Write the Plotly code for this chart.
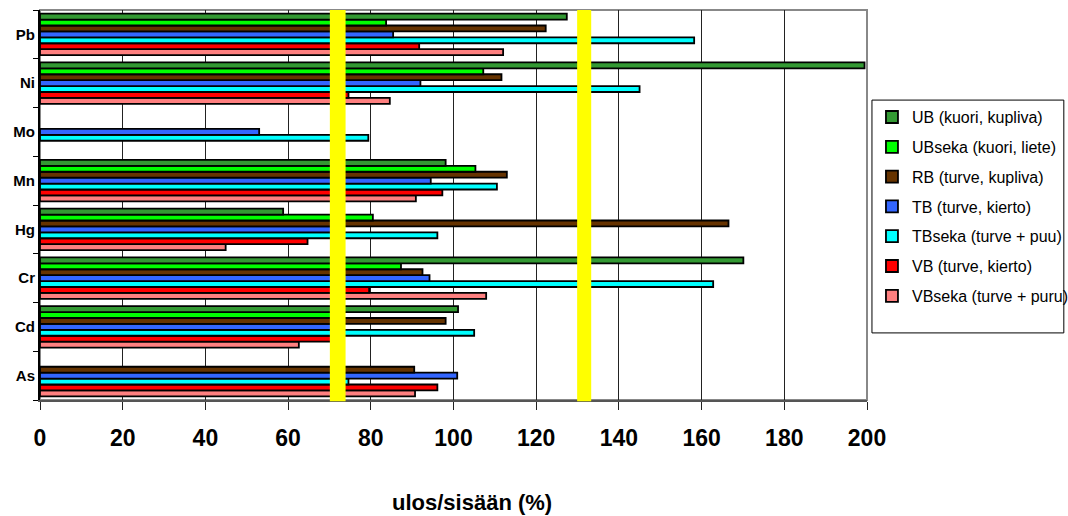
import plotly.graph_objects as go

categories = ["As", "Cd", "Cr", "Hg", "Mn", "Mo", "Ni", "Pb"]

series_names = [
    "UB (kuori, kupliva)",
    "UBseka (kuori, liete)",
    "RB (turve, kupliva)",
    "TB (turve, kierto)",
    "TBseka (turve + puu)",
    "VB (turve, kierto)",
    "VBseka (turve + puru)",
]

ub      = [None, 101.1, 170.1, 58.8, 98.1, None, 199.4, 127.4]
ubseka  = [None, 72.0, 87.3, 80.5, 105.3, None, 107.2, 83.7]
rb      = [90.5, 98.1, 92.5, 166.5, 112.9, None, 111.6, 122.3]
tb      = [100.9, 71.5, 94.2, 72.0, 94.5, 53.0, 92.0, 85.4]
tbseka  = [74.6, 105.0, 162.8, 96.1, 110.5, 79.4, 145.0, 158.2]
vb      = [96.1, 71.0, 79.6, 64.7, 97.3, None, 74.6, 91.7]
vbseka  = [90.7, 62.6, 107.9, 44.9, 90.9, None, 84.6, 112.0]

series_values = [ub, ubseka, rb, tb, tbseka, vb, vbseka]
colors = ["#339933", "#00ff00", "#663300", "#3366ff", "#00ffff", "#ff0000", "#ff8080"]

x_ticks = [0, 20, 40, 60, 80, 100, 120, 140, 160, 180, 200]
bands = [(70.1, 73.9), (129.9, 133.3)]

FONT = "Liberation Sans, Arial, sans-serif"

fig = go.Figure()
# add in reverse so the first series sits at the top of each group
items = list(zip(series_names, series_values, colors))
for rank, (name, vals, col) in reversed(list(enumerate(items))):
    fig.add_trace(go.Bar(
        y=categories, x=vals, name=name, orientation="h",
        marker=dict(color=col, line=dict(color="black", width=1.8)),
        legendgroup=name, legendrank=rank + 1,
    ))

shapes = []
for x0, x1 in bands:
    shapes.append(dict(type="rect", xref="x", yref="paper", x0=x0, x1=x1, y0=-0.003, y1=1,
                       fillcolor="#ffff00", line=dict(width=0), layer="above"))
# plot area frame (top/right grey)
shapes.append(dict(type="rect", xref="paper", yref="paper", x0=0, x1=1, y0=0, y1=1,
                   line=dict(color="#888888", width=2), layer="below"))
# legend box
shapes.append(dict(type="rect", xref="paper", yref="paper", x0=1.006, x1=1.238, y0=0.172, y1=0.769,
                   line=dict(color="black", width=1), layer="above"))

fig.update_layout(
    width=1068, height=516,
    margin=dict(l=40, r=201, t=10, b=116, autoexpand=False),
    paper_bgcolor="white", plot_bgcolor="white",
    barmode="group", bargap=0.15, bargroupgap=0,
    font=dict(family=FONT, color="black"),
    showlegend=True,
    legend=dict(
        x=1.006, xanchor="left", y=0.769, yanchor="top",
        traceorder="grouped", tracegroupgap=6,
        font=dict(family=FONT, size=16, color="black"),
        bgcolor="rgba(0,0,0,0)", borderwidth=0,
        itemwidth=30,
    ),
    xaxis=dict(
        range=[0, 200], tickvals=x_ticks, ticktext=[str(v) for v in x_ticks],
        showgrid=True, gridcolor="#222222", gridwidth=1,
        showline=True, linecolor="#555555", linewidth=2,
        ticks="outside", ticklen=8, tickcolor="#222222",
        tickfont=dict(family=FONT, size=23, color="black", weight="bold"),
        ticklabelstandoff=8, automargin=False,
        zeroline=False,
    ),
    yaxis=dict(
        categoryorder="array", categoryarray=categories,
        range=[-0.5, 7.5],
        showline=True, linecolor="black", linewidth=2,
        ticks="outside", ticklen=5, tickson="boundaries", tickcolor="black",
        tickfont=dict(family=FONT, size=15, color="black", weight="bold"),
        showgrid=False, zeroline=False, automargin=False,
    ),
    shapes=shapes,
    annotations=[dict(
        text="<b>ulos/sisään (%)</b>", xref="paper", yref="paper",
        x=0.522, y=-0.262, xanchor="center", yanchor="middle", showarrow=False,
        font=dict(family=FONT, size=22, color="black"),
    )],
)

fig.write_html("out.html", config={"displayModeBar": False},
               post_script="document.body.style.margin='0px';")
